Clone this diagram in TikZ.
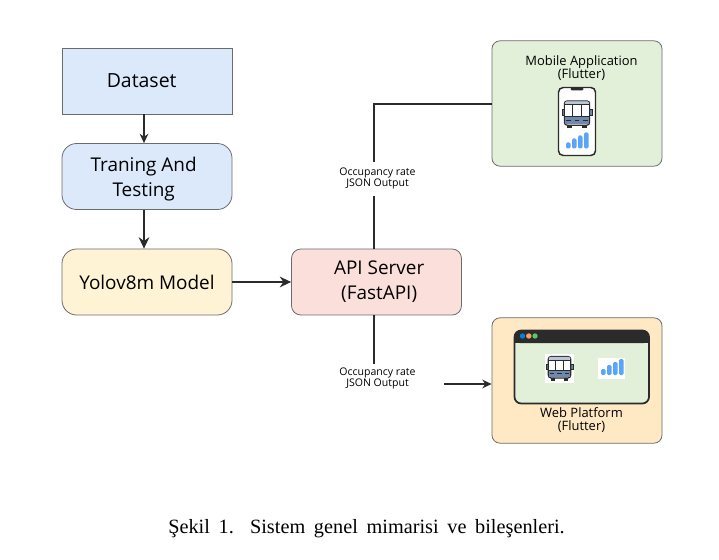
\documentclass[tikz,border=0pt]{standalone}
\usepackage{fontspec}
\setmainfont{Liberation Serif}
\newfontfamily\boxfont{Open Sans}
\usepackage{tikz}
\usetikzlibrary{arrows.meta}

\definecolor{bluefill}{HTML}{DCE9FA}
\definecolor{yellowfill}{HTML}{FFF3D6}
\definecolor{redfill}{HTML}{FADFDB}
\definecolor{greenfill}{HTML}{E2F0D9}
\definecolor{orangefill}{HTML}{FFE8C4}
\definecolor{edgegray}{HTML}{6B6B6B}
\definecolor{darkline}{HTML}{2B2B2B}
\definecolor{iconblue}{HTML}{5AA5F5}
\definecolor{busband}{HTML}{7088AE}
\definecolor{busroof}{HTML}{BAC6D8}
\definecolor{dotblue}{HTML}{0B7FD8}
\definecolor{dotorange}{HTML}{F4A460}
\definecolor{dotgreen}{HTML}{5CC46E}

\tikzset{
  stagebox/.style={draw=edgegray, line width=0.6pt, minimum width=127.5pt, minimum height=49.5pt,
    align=center, inner sep=0pt, font=\boxfont\fontsize{14.2}{18.7}\selectfont},
  bigbox/.style={draw=edgegray, line width=0.6pt, rounded corners=6pt, minimum width=127.5pt, minimum height=94pt},
  smalltext/.style={align=center, inner sep=0pt, font=\boxfont\fontsize{7.9}{8.2}\selectfont},
  midtext/.style={align=center, inner sep=0pt, font=\boxfont\fontsize{9.7}{9.8}\selectfont},
  link/.style={draw=darkline, line width=1.1pt},
  thinlink/.style={draw=darkline, line width=0.8pt},
  bigtip/.style={>={Stealth[length=8.5pt,width=8pt]}},
}

% bus icon, centred at #1, #2 is the scale
\newcommand{\busicon}[2]{
  \begin{scope}[shift={(#1)},scale=#2]
    \fill[darkline] (-10,9) rectangle (-5,14);
    \fill[darkline] (5,9) rectangle (10,14);
    \draw[darkline,fill=busband,line width=0.4pt] (-15.5,-5) rectangle (-13,1);
    \draw[darkline,fill=busband,line width=0.4pt] (13,-5) rectangle (15.5,1);
    \draw[darkline,fill=white,line width=0.9pt,rounded corners=2pt] (-13,-14) rectangle (13,11);
    \fill[busroof,rounded corners=1pt] (-12.5,-13.5) rectangle (12.5,-10);
    \fill[busband] (-12.5,2) rectangle (12.5,10);
    \draw[darkline,line width=0.6pt] (-13,-10) -- (13,-10);
    \draw[darkline,line width=0.6pt] (-13,2) -- (13,2);
    \draw[darkline,line width=0.6pt] (-4.3,-10) -- (-4.3,2);
    \draw[darkline,line width=0.6pt] (4.3,-10) -- (4.3,2);
    \draw[darkline,line width=0.7pt] (-11,6) -- (-6,6);
    \draw[darkline,line width=0.7pt] (-2.5,6) -- (2.5,6);
    \draw[darkline,line width=0.7pt] (6,6) -- (11,6);
  \end{scope}
}
% signal bars, #1 is the lower left corner
\newcommand{\barsicon}[1]{
  \begin{scope}[shift={(#1)}]
    \fill[iconblue,rounded corners=1pt] (0,0) rectangle (4.5,-6);
    \fill[iconblue,rounded corners=1pt] (6,0) rectangle (10.5,-10);
    \fill[iconblue,rounded corners=1pt] (12,0) rectangle (16.5,-13);
    \fill[iconblue,rounded corners=1pt] (18,0) rectangle (22.5,-16);
  \end{scope}
}

\begin{document}
\begin{tikzpicture}[x=0.75pt,y=-0.75pt,>={Stealth[length=7pt,width=6.5pt]}]
\useasboundingbox (0,0) rectangle (719,560);

\node[stagebox,fill=bluefill] (dataset) at (147,81) {\fontsize{14.6}{18.7}\selectfont Dataset\hspace*{8pt}};
\node[stagebox,fill=bluefill,rounded corners=11pt] (train) at (147,176.5) {\rule{0pt}{14.6pt}Traning And\hspace*{5pt}\\Testing\hspace*{5pt}};
\node[stagebox,fill=yellowfill,rounded corners=11pt] (yolo) at (147,282) {Yolov8m Model};
\node[stagebox,fill=redfill,rounded corners=7pt] (api) at (376.5,282) {\hspace*{4pt}API Server\\\hspace*{4pt}(FastAPI)};
\node[bigbox,fill=greenfill] (mobile) at (577,103.5) {};
\node[bigbox,fill=orangefill] (web) at (577,380.5) {};

\node[midtext] (mobiletext) at (581.5,68.5) {Mobile Application\\(Flutter)};
\node[midtext] (webtext) at (581.5,420.5) {Web Platform\\(Flutter)};
\node[smalltext] (occup) at (377.5,178.5) {Occupancy rate\\JSON Output};
\node[smalltext] (occdown) at (377.5,378.5) {Occupancy rate\\JSON Output};

\coordinate (leftline) at (144,100);
\coordinate (upstart) at (374,249);
\coordinate (upend) at (374,196);
\coordinate (upgap) at (374,162);
\coordinate (corner) at (374,104);
\coordinate (downstart) at (374,315);
\coordinate (downend) at (374,364);
\coordinate (outstart) at (444,384);

\draw[thinlink,->] (dataset.south -| leftline) -- (train.north -| leftline);
\draw[link,bigtip,->] (train.south -| leftline) -- (yolo.north -| leftline);
\draw[link,bigtip,->] (yolo) -- (api);
\draw[link] (upstart) -- (upend);
\draw[link] (upgap) -- (corner) -- (mobile.west |- corner);
\draw[link] (downstart) -- (downend);
\draw[thinlink,->] (outstart) -- (web.west |- outstart);

% phone
\draw[darkline,fill=white,line width=1.1pt,rounded corners=3.5pt] (558.5,87.5) rectangle (595.5,155.5);
\fill[darkline,rounded corners=1pt] (570.5,87.5) rectangle (583.5,90.5);
\busicon{577,114.5}{0.97}
\barsicon{566,148.5}

% browser window
\draw[darkline,fill=greenfill,line width=1.3pt,rounded corners=5pt] (514.5,330.5) rectangle (649,403.5);
\fill[darkline,rounded corners=4pt] (514.5,330.5) rectangle (649,343);
\fill[darkline] (514.5,337) rectangle (649,343);
\fill[dotblue] (522.5,336) circle (2.7);
\fill[dotorange] (528.8,336) circle (2.7);
\fill[dotgreen] (535,336) circle (2.7);
\fill[white] (545,354) rectangle (574,383);
\busicon{559.5,368.5}{0.86}
\fill[white] (598,358) rectangle (625,379);
\barsicon{601,375}

\node (caption) at (366.5,529) {\fontsize{15.2}{17}\selectfont\spaceskip=0.43em plus 0pt Şekil 1.\hspace{0.8em}Sistem genel mimarisi ve bileşenleri.};
\end{tikzpicture}
\end{document}
